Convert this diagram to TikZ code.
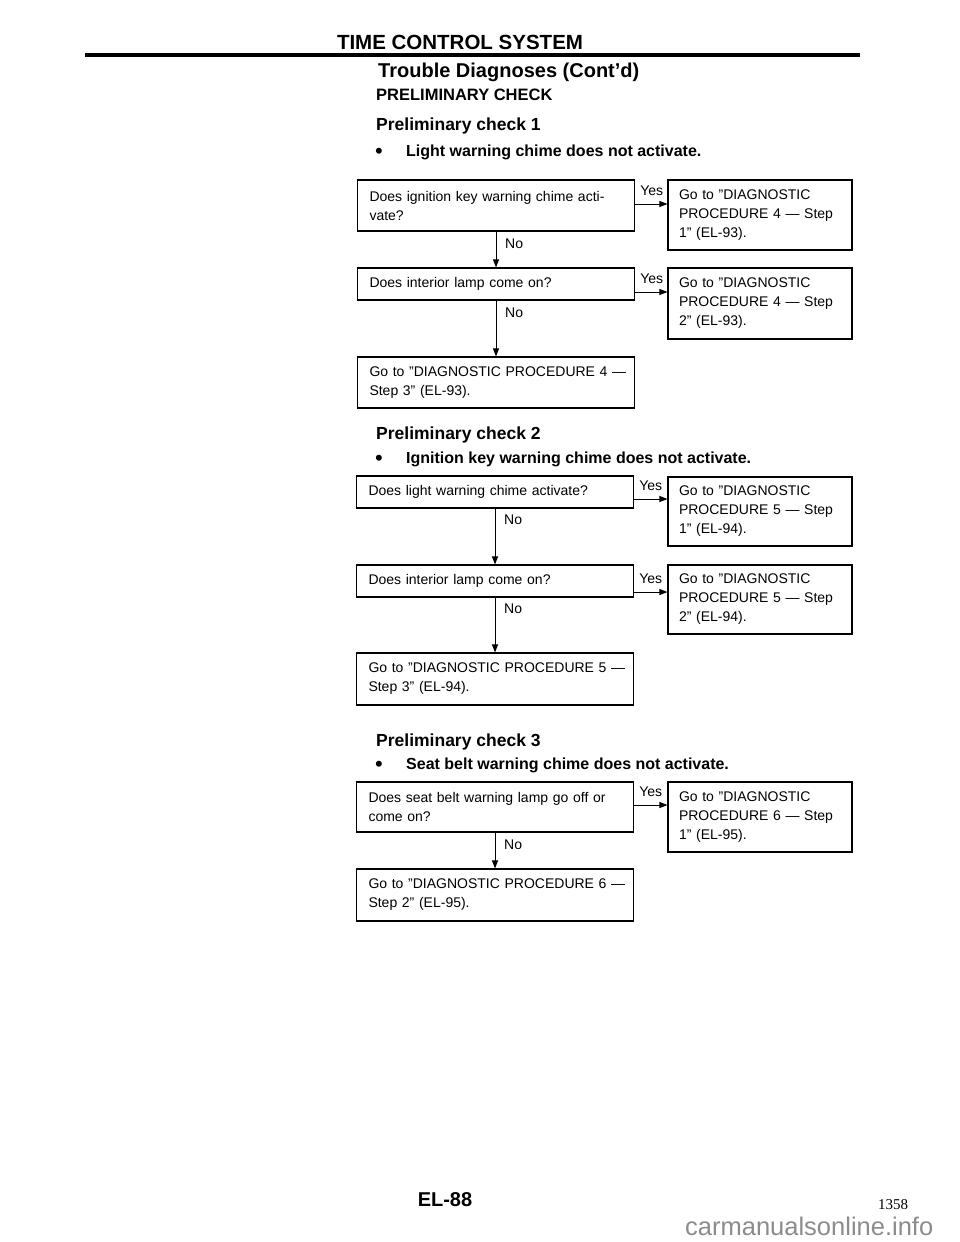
\documentclass[tikz,border=0pt]{standalone}
\usepackage{fontspec}
\setmainfont{Liberation Sans}
\newfontfamily\numserif{Liberation Serif}
\usetikzlibrary{arrows.meta}
\begin{document}
\begin{tikzpicture}[x=1pt,y=-1pt,
  dbox/.style={draw, line width=1.1pt, text width=253pt, inner xsep=12pt, inner ysep=0pt,
    align=left, font=\fontsize{14}{19}\selectfont},
  ybox/.style={draw, line width=1.1pt, text width=162pt, inner xsep=11pt, inner ysep=0pt,
    align=left, font=\fontsize{14}{19}\selectfont},
  arr/.style={-{Triangle[length=8pt,width=6pt]}, line width=1pt},
  lbl/.style={font=\fontsize{14}{14}\selectfont, inner sep=0pt},
  head/.style={inner sep=0pt, anchor=base west},
]
\useasboundingbox[fill=white] (0,0) rectangle (960,1242);

% header
\node[inner sep=0pt, anchor=base, font=\fontsize{20.5}{20}\selectfont\bfseries] (hdr) at (460,49) {TIME CONTROL SYSTEM};
\draw[line width=3.5pt] (85,55) -- (860,55);
\node[head, font=\fontsize{20}{20}\selectfont\bfseries] (ttl) at (378,77) {Trouble Diagnoses (Cont’d)};
\node[head, font=\fontsize{16.5}{16}\selectfont\bfseries] (pc) at (376,100) {PRELIMINARY CHECK};

% ---------- check 1
\node[head, font=\fontsize{17.5}{17}\selectfont\bfseries] (h1) at (376,130) {Preliminary check 1};
\node[inner sep=0pt, anchor=base, font=\fontsize{22}{22}\selectfont] (b1) at (379,158) {•};
\node[head, font=\fontsize{16}{16}\selectfont\bfseries] (s1) at (406,156) {Light warning chime does not activate.};

\node[dbox, minimum height=51pt] (A1) at (496,205.5) {\mbox{Does ignition key warning chime acti-}\\vate?};
\node[ybox, minimum height=70pt] (A1Y) at (760,215) {Go to ''DIAGNOSTIC\\PROCEDURE 4 — Step\\1'' (EL-93).};
\node[dbox, minimum height=32pt] (A2) at (496,284) {Does interior lamp come on?};
\node[ybox, minimum height=71pt] (A2Y) at (760,303.5) {Go to ''DIAGNOSTIC\\PROCEDURE 4 — Step\\2'' (EL-93).};
\node[dbox, minimum height=51pt] (A3) at (496,382.5) {\mbox{Go to ''DIAGNOSTIC PROCEDURE 4 —}\\Step 3'' (EL-93).};

\draw[arr] ([yshift=1.5pt]A1.east) -- ([yshift=1.5pt]A1.east -| A1Y.west);
\node[lbl, anchor=base west] at ([xshift=5pt,yshift=10.5pt]A1.east) {Yes};
\draw[arr] ([yshift=-8pt]A2.east) -- ([yshift=-8pt]A2.east -| A2Y.west);
\node[lbl, anchor=base west] at ([xshift=5pt,yshift=1pt]A2.east) {Yes};
\draw[arr] (A1.south) -- (A2.north);
\node[lbl, anchor=west] at ([xshift=9pt,yshift=-12pt]A1.south) {No};
\draw[arr] (A2.south) -- (A3.north);
\node[lbl, anchor=west] at ([xshift=9pt,yshift=-12pt]A2.south) {No};

% ---------- check 2
\node[head, font=\fontsize{17.5}{17}\selectfont\bfseries] (h2) at (376,439) {Preliminary check 2};
\node[inner sep=0pt, anchor=base, font=\fontsize{22}{22}\selectfont] (b2) at (379,465) {•};
\node[head, font=\fontsize{16}{16}\selectfont\bfseries] (s2) at (406,463) {Ignition key warning chime does not activate.};

\node[dbox, minimum height=32pt] (B1) at (495,492) {Does light warning chime activate?};
\node[ybox, minimum height=69pt] (B1Y) at (760,511.5) {Go to ''DIAGNOSTIC\\PROCEDURE 5 — Step\\1'' (EL-94).};
\node[dbox, minimum height=32pt] (B2) at (495,581) {Does interior lamp come on?};
\node[ybox, minimum height=69pt] (B2Y) at (760,599.5) {Go to ''DIAGNOSTIC\\PROCEDURE 5 — Step\\2'' (EL-94).};
\node[dbox, minimum height=52pt] (B3) at (495,679) {\mbox{Go to ''DIAGNOSTIC PROCEDURE 5 —}\\Step 3'' (EL-94).};

\draw[arr] ([yshift=-7pt]B1.east) -- ([yshift=-7pt]B1.east -| B1Y.west);
\node[lbl, anchor=base west] at ([xshift=5pt,yshift=2pt]B1.east) {Yes};
\draw[arr] ([yshift=-11pt]B2.east) -- ([yshift=-11pt]B2.east -| B2Y.west);
\node[lbl, anchor=base west] at ([xshift=5pt,yshift=-2pt]B2.east) {Yes};
\draw[arr] (B1.south) -- (B2.north);
\node[lbl, anchor=west] at ([xshift=9pt,yshift=-11pt]B1.south) {No};
\draw[arr] (B2.south) -- (B3.north);
\node[lbl, anchor=west] at ([xshift=9pt,yshift=-11pt]B2.south) {No};

% ---------- check 3
\node[head, font=\fontsize{17.5}{17}\selectfont\bfseries] (h3) at (376,746) {Preliminary check 3};
\node[inner sep=0pt, anchor=base, font=\fontsize{22}{22}\selectfont] (b3) at (379,771) {•};
\node[head, font=\fontsize{16}{16}\selectfont\bfseries] (s3) at (406,769) {Seat belt warning chime does not activate.};

\node[dbox, minimum height=50pt] (C1) at (495,807) {\mbox{Does seat belt warning lamp go off or}\\come on?};
\node[ybox, minimum height=70pt] (C1Y) at (760,817) {Go to ''DIAGNOSTIC\\PROCEDURE 6 — Step\\1'' (EL-95).};
\node[dbox, minimum height=52pt] (C2) at (495,895) {\mbox{Go to ''DIAGNOSTIC PROCEDURE 6 —}\\Step 2'' (EL-95).};

\draw[arr] ([yshift=2pt]C1.east) -- ([yshift=2pt]C1.east -| C1Y.west);
\node[lbl, anchor=base west] at ([xshift=5pt,yshift=11pt]C1.east) {Yes};
\draw[arr] (C1.south) -- (C2.north);
\node[lbl, anchor=west] at ([xshift=9pt,yshift=-12pt]C1.south) {No};

% ---------- footer
\node[inner sep=0pt, anchor=base, font=\fontsize{20}{20}\selectfont\bfseries] (pg) at (445,1206) {EL-88};
\node[inner sep=0pt, anchor=base west, font=\fontsize{15}{15}\selectfont\numserif] (pn) at (878,1209) {1358};
\node[inner sep=0pt, anchor=base west, font=\fontsize{25.5}{26}\selectfont, text=black!45] (wm) at (685,1235) {carmanualsonline.info};
\end{tikzpicture}
\end{document}
